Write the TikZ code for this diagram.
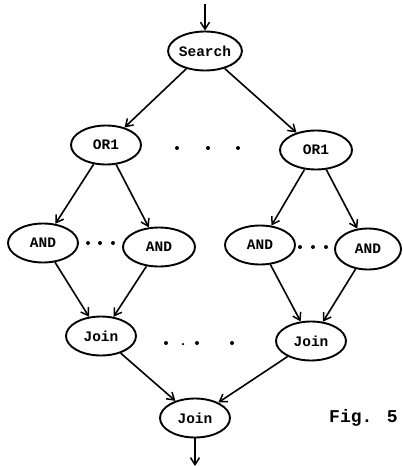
\documentclass[tikz,border=0pt]{standalone}
\usepackage{fontspec}
\newfontfamily\tw{Liberation Mono}
\usetikzlibrary{shapes.geometric,arrows.meta}
\begin{document}
\begin{tikzpicture}[x=1pt,y=-1pt,
  op/.style={ellipse,draw,line width=1.9pt,minimum width=70pt,minimum height=39pt,inner sep=0pt,font=\tw\bfseries\fontsize{14.5}{16}\selectfont},
  conn/.style={line width=1.6pt,-{Straight Barb[length=7pt,width=9pt,line width=1.5pt]}},
  dotc/.style={circle,fill,inner sep=0pt,minimum size=4pt}]
\useasboundingbox (0,0) rectangle (403,466);
\node[op,minimum width=67pt] (search) at (205,51) {Search};
\node[op] (or1) at (106,145) {OR1};
\node[op,minimum width=72pt] (or2) at (316,150) {OR1};
\node[op] (and1) at (43,243) {AND};
\node[op,minimum width=72pt] (and2) at (159,247) {AND};
\node[op] (and3) at (260,245) {AND};
\node[op,minimum width=66pt,minimum height=41pt] (and4) at (368,249) {AND};
\node[op] (join1) at (101,336) {Join};
\node[op] (join2) at (311,341) {Join};
\node[op] (join3) at (195,418) {Join};
\coordinate (top) at (205,4);
\coordinate (bot) at (195,466);
\draw[conn] (top) -- (search);
\draw[conn] (search) -- (or1);
\draw[conn] (search) -- (or2);
\draw[conn] (or1) -- (and1);
\draw[conn] (or1) -- (and2);
\draw[conn] (or2) -- (and3);
\draw[conn] (or2) -- (and4);
\draw[conn] (and1) -- (join1);
\draw[conn] (and2) -- (join1);
\draw[conn] (and3) -- (join2);
\draw[conn] (and4) -- (join2);
\draw[conn] (join1) -- (join3);
\draw[conn] (join2) -- (join3);
\draw[conn] (join3) -- (bot);
% dots
\node[dotc] (d1) at (177,148) {};
\node[dotc] (d2) at (208,148) {};
\node[dotc] (d3) at (238,148) {};
\node[dotc] (d4) at (88,243) {};
\node[dotc] (d5) at (100,243) {};
\node[dotc] (d6) at (113,243) {};
\node[dotc] (d7) at (300,247) {};
\node[dotc] (d8) at (313,247) {};
\node[dotc] (d9) at (326,247) {};
\node[dotc] (d10) at (166,343) {};
\node[dotc,minimum size=2.5pt] (d11) at (183,344) {};
\node[dotc] (d12) at (197,343) {};
\node[dotc] (d13) at (232,343) {};
\node[anchor=west,inner sep=0pt,font=\tw\bfseries\fontsize{18}{20}\selectfont] (fig) at (329,418) {Fig. 5};
\end{tikzpicture}
\end{document}
